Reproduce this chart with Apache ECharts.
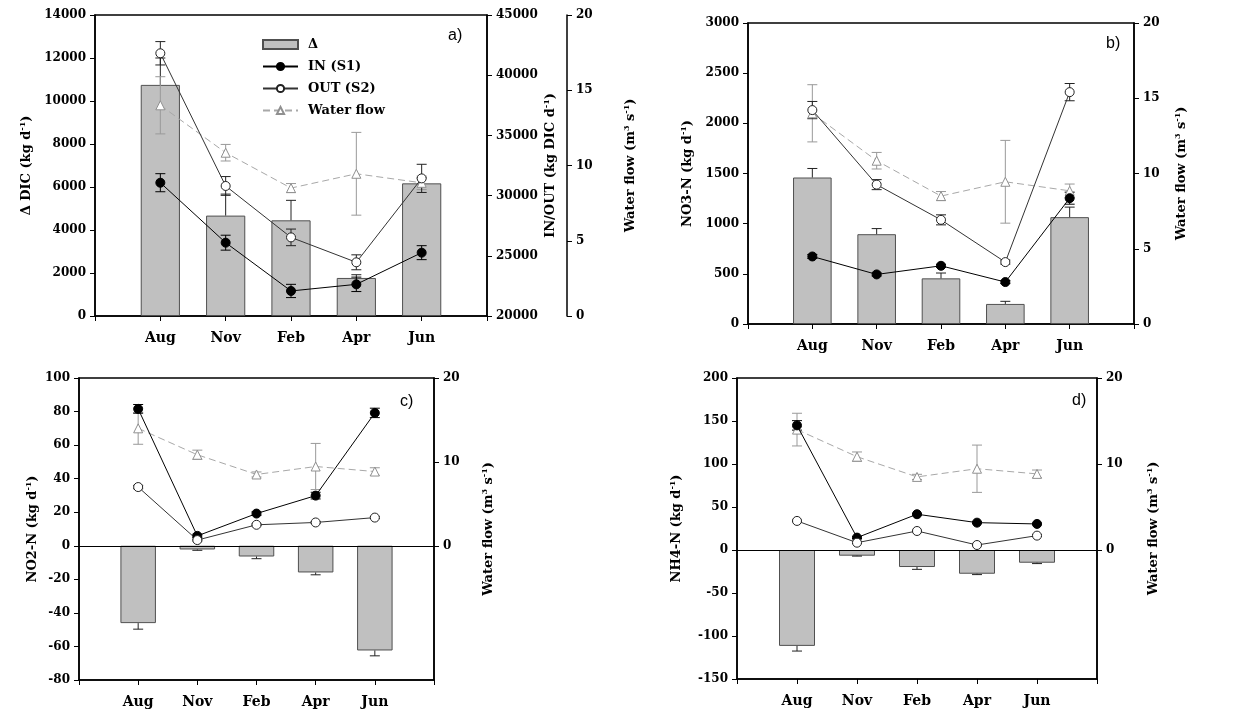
<!DOCTYPE html>
<html><head><meta charset="utf-8">
<script src="https://cdn.jsdelivr.net/npm/echarts@6/dist/echarts.min.js"></script>
<style>html,body{margin:0;padding:0;background:#fff}#c{width:1249px;height:717px}</style>
</head><body><div id="c"></div>
<script>
// ---------- data ----------
const months = ['Aug', 'Nov', 'Feb', 'Apr', 'Jun'];
const flow = [14.0, 10.85, 8.5, 9.45, 8.85];
const flowErr = [1.9, 0.55, 0.3, 2.75, 0.45];

const dicDelta = [10750, 4670, 4450, 1770, 6170];
const dicDeltaErr = [1250, 1000, 930, 150, 250];
const dicIn = [31070, 26090, 22080, 22630, 25260];
const dicInErr = [750, 620, 550, 600, 580];
const dicOut = [41820, 30800, 26530, 24460, 31430];
const dicOutErr = [970, 780, 690, 620, 1170];

const no3Delta = [1460, 895, 455, 200, 1065];
const no3DeltaErr = [90, 56, 53, 26, 100];
const no3In = [673, 494, 580, 418, 1254];
const no3InErr = [20, 15, 15, 15, 60];
const no3Out = [2132, 1389, 1038, 617, 2311];
const no3OutErr = [86, 50, 50, 20, 86];

const no2Delta = [-46.1, -2.2, -6.4, -15.9, -62.4];
const no2DeltaErr = [3.6, 0.5, 1.3, 1.4, 3.2];
const no2In = [81.6, 5.9, 19.2, 29.9, 79.2];
const no2InErr = [2.6, 1, 1, 2, 2.8];
const no2Out = [35.0, 3.4, 12.5, 13.9, 16.8];
const no2OutErr = [1, 0.5, 0.5, 0.5, 0.5];

const nh4Delta = [-111.5, -6.6, -19.8, -27.6, -14.8];
const nh4DeltaErr = [6, 0.5, 2.7, 1, 1];
const nh4In = [144.9, 14.4, 41.6, 31.8, 30.3];
const nh4InErr = [5.5, 1, 1, 1, 1];
const nh4Out = [33.8, 8.5, 22.1, 5.8, 16.7];
const nh4OutErr = [1, 1, 1, 1, 1];

// ---------- helpers ----------
const FONT = 'DejaVu Serif';
const cats = [''].concat(months, ['']);
const pts = v => months.map((m, i) => [m, v[i]]);
const errPts = (v, e) => months.map((m, i) => [m, v[i] - e[i], v[i] + e[i]]);
const barErrPts = (v, e) => months.map((m, i) => [m, v[i], v[i] + (v[i] >= 0 ? e[i] : -e[i])]);
const plain = v => String(v);

function errSeries(xi, yi, data, color, both) {
  return {
    type: 'custom', xAxisIndex: xi, yAxisIndex: yi, data: data, z: 3, silent: true,
    encode: { x: 0, y: [1, 2] },
    renderItem: function (params, api) {
      const x = api.value(0);
      const p1 = api.coord([x, api.value(1)]);
      const p2 = api.coord([x, api.value(2)]);
      const w = 5;
      const st = { stroke: color, lineWidth: 1 };
      const ch = [
        { type: 'line', shape: { x1: p1[0], y1: p1[1], x2: p2[0], y2: p2[1] }, style: st },
        { type: 'line', shape: { x1: p2[0] - w, y1: p2[1], x2: p2[0] + w, y2: p2[1] }, style: st }
      ];
      if (both) ch.push({ type: 'line', shape: { x1: p1[0] - w, y1: p1[1], x2: p1[0] + w, y2: p1[1] }, style: st });
      return { type: 'group', children: ch };
    }
  };
}
function barSeries(xi, yi, v, zeroLine) {
  const s = {
    name: 'Δ', type: 'bar', xAxisIndex: xi, yAxisIndex: yi, data: pts(v), barWidth: '60%', z: 2,
    itemStyle: { color: '#c0c0c0', borderColor: '#505050', borderWidth: 1 }
  };
  if (zeroLine) s.markLine = { silent: true, symbol: 'none', label: { show: false },
    lineStyle: { color: '#000', width: 1, type: 'solid' }, data: [{ yAxis: 0 }] };
  return s;
}
function inSeries(xi, yi, v) {
  return { name: 'IN (S1)', type: 'line', xAxisIndex: xi, yAxisIndex: yi, data: pts(v), z: 5,
    symbol: 'circle', symbolSize: 9, lineStyle: { color: '#000', width: 1 },
    itemStyle: { color: '#000', borderColor: '#000', borderWidth: 1 } };
}
function outSeries(xi, yi, v) {
  return { name: 'OUT (S2)', type: 'line', xAxisIndex: xi, yAxisIndex: yi, data: pts(v), z: 5,
    symbol: 'circle', symbolSize: 9, lineStyle: { color: '#333', width: 1 },
    itemStyle: { color: '#fff', borderColor: '#222', borderWidth: 1 } };
}
function flowSeries(xi, yi) {
  return { name: 'Water flow', type: 'line', xAxisIndex: xi, yAxisIndex: yi, data: pts(flow), z: 4,
    symbol: 'triangle', symbolSize: 9, lineStyle: { color: '#a8a8a8', width: 1, type: [7, 4] },
    itemStyle: { color: '#fff', borderColor: '#909090', borderWidth: 1 } };
}
const nameStyle = {
  fontFamily: FONT, fontWeight: 'bold', fontSize: 13, color: '#000', lineHeight: 16,
  rich: { sup: { fontFamily: FONT, fontWeight: 'bold', fontSize: 8, verticalAlign: 'top', lineHeight: 16, color: '#000' } }
};
const labelStyle = { color: '#000', fontFamily: FONT, fontWeight: 'bold', fontSize: 12, margin: 9, formatter: plain };
function yAx(gi, o) {
  return Object.assign({
    type: 'value', gridIndex: gi, nameLocation: 'middle', nameRotate: 90, nameTextStyle: nameStyle,
    axisLine: { show: true, lineStyle: { color: '#000', width: 1.5 } },
    axisTick: { show: true, inside: false, length: 5, lineStyle: { color: '#000', width: 1 } },
    axisLabel: labelStyle,
    splitLine: { show: false }
  }, o);
}
function xAx(gi) {
  return { type: 'category', gridIndex: gi, data: cats, boundaryGap: false,
    axisLine: { onZero: false, lineStyle: { color: '#000', width: 1.5 } },
    axisTick: { show: true, length: 5, lineStyle: { color: '#000' } },
    axisLabel: { interval: 0, color: '#000', fontFamily: FONT, fontWeight: 'bold', fontSize: 14, margin: 15 },
    splitLine: { show: false } };
}
const gridStyle = { show: true, borderColor: '#000', borderWidth: 1.5, backgroundColor: 'transparent' };
const flowName = 'Water flow (m{sup|3} s{sup|-1})';
const sparseLabels = Object.assign({}, labelStyle, { customValues: [0, 10, 20] });
const sparseTicks = { show: true, length: 5, lineStyle: { color: '#000' }, customValues: [0, 10, 20] };

const option = {
  animation: false,
  backgroundColor: '#fff',
  grid: [
    Object.assign({ left: 95, top: 15, width: 392, height: 301 }, gridStyle),
    Object.assign({ left: 748, top: 23, width: 386, height: 301 }, gridStyle),
    Object.assign({ left: 79, top: 378, width: 355, height: 302 }, gridStyle),
    Object.assign({ left: 737, top: 378, width: 360, height: 301 }, gridStyle)
  ],
  xAxis: [xAx(0), xAx(1), xAx(2), xAx(3)],
  yAxis: [
    yAx(0, { position: 'left', min: 0, max: 14000, interval: 2000, name: 'Δ DIC (kg d{sup|-1})', nameGap: 60 }),
    yAx(0, { position: 'right', min: 20000, max: 45000, interval: 5000, name: 'IN/OUT (kg DIC d{sup|-1})', nameGap: 56 }),
    yAx(0, { position: 'right', offset: 80, min: 0, max: 20, interval: 5, name: flowName, nameGap: 56 }),
    yAx(1, { position: 'left', min: 0, max: 3000, interval: 500, name: 'NO3-N (kg d{sup|-1})', nameGap: 52 }),
    yAx(1, { position: 'right', min: 0, max: 20, interval: 5, name: flowName, nameGap: 40 }),
    yAx(2, { position: 'left', min: -80, max: 100, interval: 20, name: 'NO2-N (kg d{sup|-1})', nameGap: 38 }),
    yAx(2, { position: 'right', min: -16, max: 20, name: flowName, nameGap: 47,
      axisLabel: sparseLabels, axisTick: sparseTicks }),
    yAx(3, { position: 'left', min: -150, max: 200, interval: 50, name: 'NH4-N (kg d{sup|-1})', nameGap: 52 }),
    yAx(3, { position: 'right', min: -15, max: 20, name: flowName, nameGap: 49,
      axisLabel: sparseLabels, axisTick: sparseTicks })
  ],
  legend: {
    orient: 'vertical', left: 257, top: 33, itemWidth: 35, itemHeight: 9, itemGap: 9, selectedMode: false,
    textStyle: { fontFamily: FONT, fontWeight: 'bold', fontSize: 13, color: '#000', padding: [0, 0, 0, 5] },
    data: [{ name: 'Δ', icon: 'rect' }, 'IN (S1)', 'OUT (S2)', 'Water flow']
  },
  graphic: [
    { type: 'text', left: 448, top: 28, style: { text: 'a)', font: '16px "Liberation Sans"', fill: '#000' } },
    { type: 'text', left: 1106, top: 36, style: { text: 'b)', font: '16px "Liberation Sans"', fill: '#000' } },
    { type: 'text', left: 400, top: 394, style: { text: 'c)', font: '16px "Liberation Sans"', fill: '#000' } },
    { type: 'text', left: 1072, top: 393, style: { text: 'd)', font: '16px "Liberation Sans"', fill: '#000' } }
  ],
  series: [
    // panel a
    barSeries(0, 0, dicDelta, false),
    errSeries(0, 0, barErrPts(dicDelta, dicDeltaErr), '#222', false),
    errSeries(0, 2, errPts(flow, flowErr), '#999', true),
    flowSeries(0, 2),
    errSeries(0, 1, errPts(dicIn, dicInErr), '#000', true),
    errSeries(0, 1, errPts(dicOut, dicOutErr), '#222', true),
    inSeries(0, 1, dicIn),
    outSeries(0, 1, dicOut),
    // panel b
    barSeries(1, 3, no3Delta, false),
    errSeries(1, 3, barErrPts(no3Delta, no3DeltaErr), '#222', false),
    errSeries(1, 4, errPts(flow, flowErr), '#999', true),
    flowSeries(1, 4),
    errSeries(1, 3, errPts(no3In, no3InErr), '#000', true),
    errSeries(1, 3, errPts(no3Out, no3OutErr), '#222', true),
    inSeries(1, 3, no3In),
    outSeries(1, 3, no3Out),
    // panel c
    barSeries(2, 5, no2Delta, true),
    errSeries(2, 5, barErrPts(no2Delta, no2DeltaErr), '#222', false),
    errSeries(2, 6, errPts(flow, flowErr), '#999', true),
    flowSeries(2, 6),
    errSeries(2, 5, errPts(no2In, no2InErr), '#000', true),
    errSeries(2, 5, errPts(no2Out, no2OutErr), '#222', true),
    inSeries(2, 5, no2In),
    outSeries(2, 5, no2Out),
    // panel d
    barSeries(3, 7, nh4Delta, true),
    errSeries(3, 7, barErrPts(nh4Delta, nh4DeltaErr), '#222', false),
    errSeries(3, 8, errPts(flow, flowErr), '#999', true),
    flowSeries(3, 8),
    errSeries(3, 7, errPts(nh4In, nh4InErr), '#000', true),
    errSeries(3, 7, errPts(nh4Out, nh4OutErr), '#222', true),
    inSeries(3, 7, nh4In),
    outSeries(3, 7, nh4Out)
  ]
};
const chart = echarts.init(document.getElementById('c'), null, { renderer: 'canvas' });
chart.setOption(option);
</script>
</body></html>
